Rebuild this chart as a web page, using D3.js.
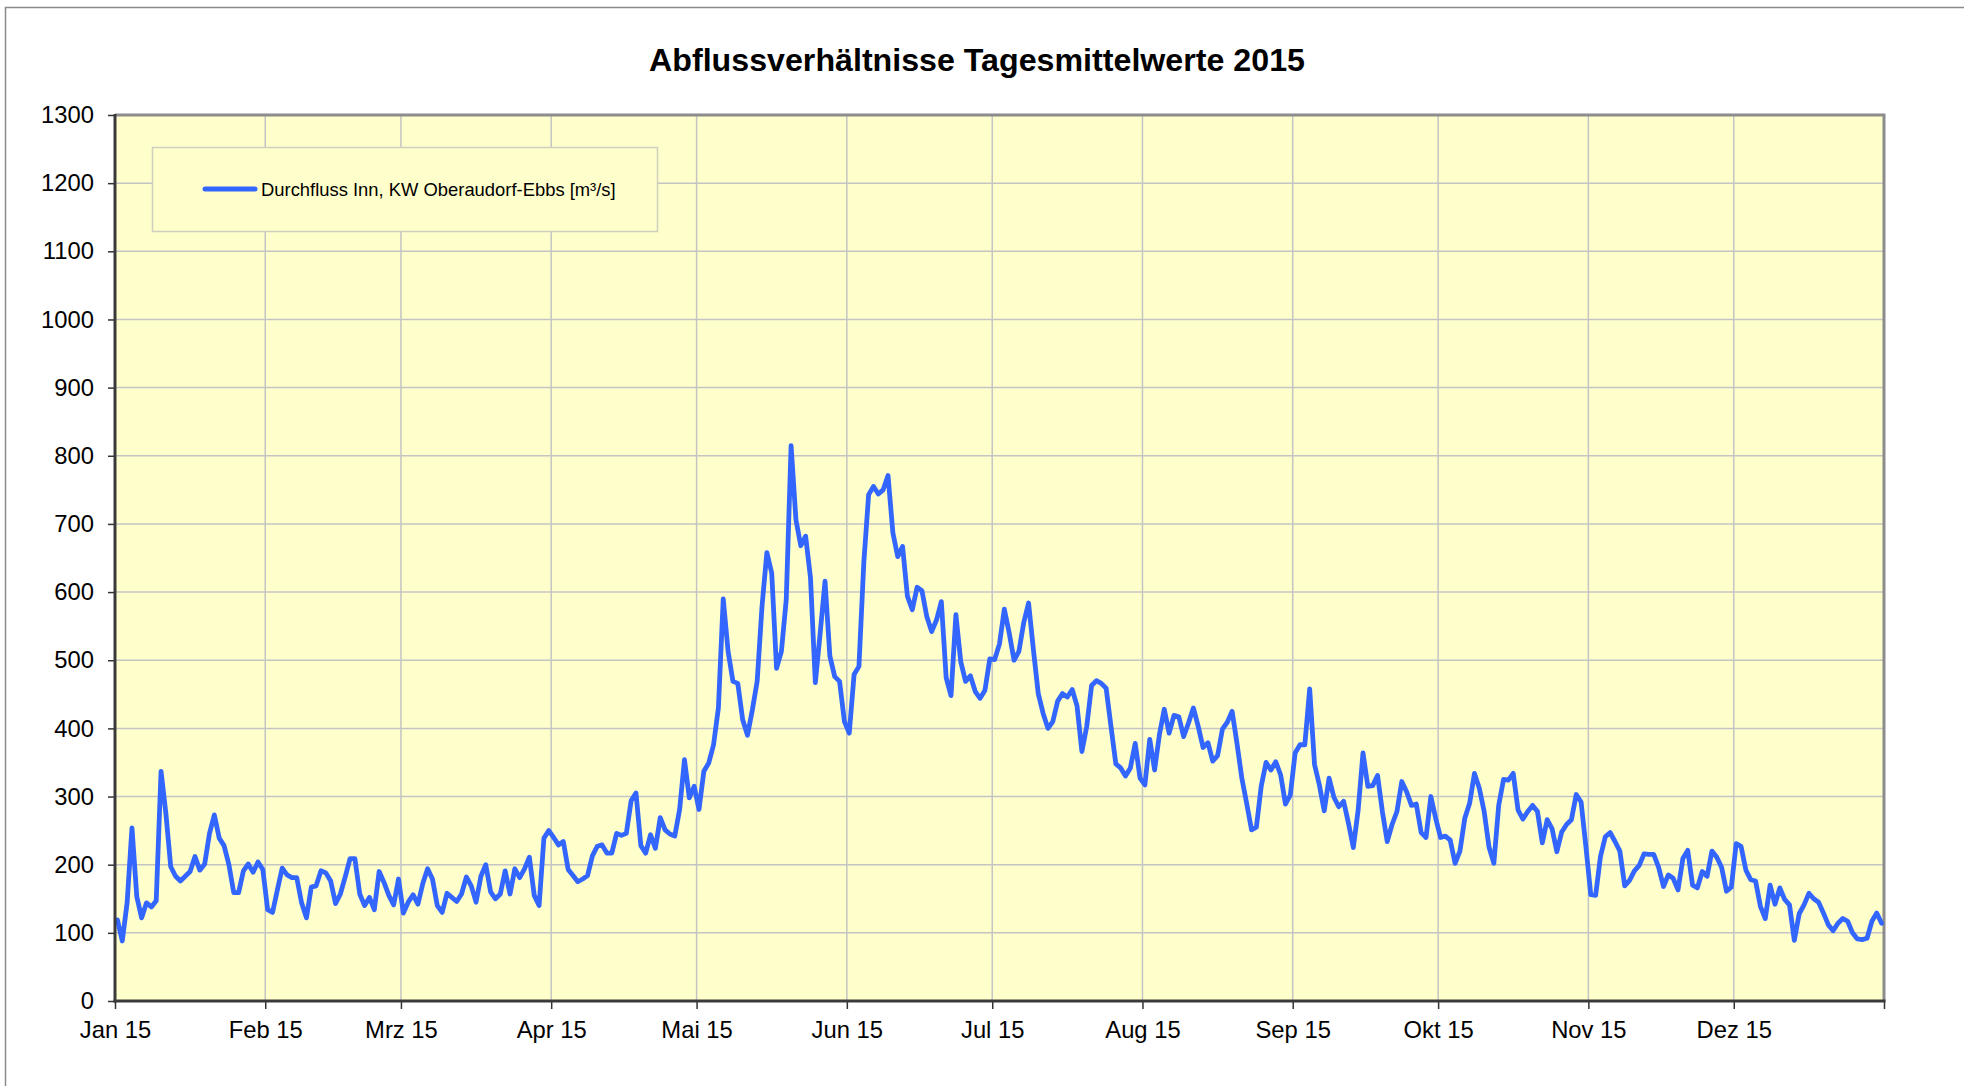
<!DOCTYPE html>
<html>
<head>
<meta charset="utf-8">
<title>Abflussverhältnisse Tagesmittelwerte 2015</title>
<script src="https://cdn.jsdelivr.net/npm/d3@7"></script>
<style>
  html, body { margin: 0; padding: 0; background: #ffffff; }
  svg { display: block; font-family: "Liberation Sans", Arial, sans-serif; }
</style>
</head>
<body>
<svg id="chart" width="1964" height="1086"></svg>
<script>
// Daily mean discharge of the Inn at KW Oberaudorf-Ebbs, 2015 [m³/s], one array per month
const jan = [119, 88, 144, 254, 153, 122, 144, 138, 147, 337, 275, 197, 183, 176, 183, 190, 212, 192, 201, 246, 273, 239, 228, 200, 159, 159, 191, 201, 189, 204, 193];
const feb = [134, 130, 163, 195, 185, 181, 181, 144, 122, 167, 169, 191, 188, 176, 143, 157, 182, 209, 209, 157, 140, 152, 134, 190, 174, 155, 141, 179];
const mrz = [129, 145, 156, 142, 172, 194, 179, 140, 130, 158, 152, 146, 157, 182, 169, 145, 183, 200, 160, 150, 157, 191, 157, 194, 181, 194, 211, 155, 140, 239, 250];
const apr = [240, 229, 234, 193, 184, 175, 179, 184, 213, 227, 229, 217, 217, 246, 243, 246, 294, 305, 228, 217, 244, 224, 269, 251, 245, 242, 281, 354, 298, 315];
const mai = [281, 337, 349, 376, 430, 590, 513, 469, 466, 413, 390, 427, 469, 579, 658, 628, 488, 513, 589, 815, 706, 668, 682, 621, 467, 540, 616, 506, 476, 469, 410];
const jun = [393, 479, 491, 643, 743, 755, 744, 750, 771, 687, 652, 667, 594, 574, 607, 602, 564, 542, 559, 586, 474, 448, 567, 498, 469, 477, 454, 444, 456, 502];
const jul = [501, 524, 575, 540, 500, 513, 555, 584, 515, 451, 422, 400, 410, 440, 451, 446, 457, 433, 366, 403, 463, 470, 466, 459, 403, 348, 342, 330, 342, 378, 327];
const aug = [317, 384, 339, 391, 428, 393, 419, 417, 388, 408, 430, 403, 372, 379, 352, 360, 399, 409, 425, 378, 327, 290, 251, 255, 315, 350, 339, 351, 332, 289, 302];
const sep = [364, 376, 376, 458, 347, 317, 279, 327, 299, 285, 293, 261, 225, 280, 364, 315, 316, 331, 278, 234, 259, 278, 322, 307, 287, 289, 247, 240, 300, 268];
const okt = [240, 242, 236, 202, 220, 268, 290, 334, 312, 278, 226, 202, 287, 325, 324, 334, 280, 267, 278, 287, 278, 232, 266, 253, 219, 248, 259, 266, 303, 292, 226];
const nov = [156, 155, 212, 241, 247, 234, 220, 169, 177, 191, 199, 216, 215, 215, 196, 168, 185, 180, 163, 209, 221, 170, 166, 190, 183, 220, 211, 196, 161, 167];
const dez = [231, 227, 192, 178, 176, 139, 121, 170, 142, 166, 149, 141, 89, 128, 141, 158, 150, 145, 129, 112, 103, 114, 121, 117, 100, 91, 90, 92, 117, 129, 114];

const monthLabels = ["Jan 15", "Feb 15", "Mrz 15", "Apr 15", "Mai 15", "Jun 15", "Jul 15", "Aug 15", "Sep 15", "Okt 15", "Nov 15", "Dez 15"];
const yTicks = [0, 100, 200, 300, 400, 500, 600, 700, 800, 900, 1000, 1100, 1200, 1300];

const chartTitle = "Abflussverhältnisse Tagesmittelwerte 2015";
const seriesName = "Durchfluss Inn, KW Oberaudorf-Ebbs [m³/s]";

// one record per day, placed in the middle of its day
const monthly = [jan, feb, mrz, apr, mai, jun, jul, aug, sep, okt, nov, dez];
const DAY = 86400000;
const data = [];
monthly.forEach((vals, m) => {
  vals.forEach((v, i) => {
    data.push({ date: new Date(Date.UTC(2015, m, i + 1) + DAY / 2), value: v });
  });
});

const svg = d3.select("#chart");
const plot = { left: 115, right: 1884, top: 115, bottom: 1001 };
const lineColor = "#3366ff";
const plotFill = "#ffffcc";
const gridColor = "#c4c4c4";

const x = d3.scaleUtc()
  .domain([new Date(Date.UTC(2015, 0, 1)), new Date(Date.UTC(2016, 0, 1))])
  .range([plot.left, plot.right]);
const y = d3.scaleLinear()
  .domain([0, 1300])
  .range([plot.bottom, plot.top]);

const monthStarts = d3.utcMonth.range(new Date(Date.UTC(2015, 0, 1)), new Date(Date.UTC(2016, 0, 2)));

// outer chart frame
svg.append("rect")
  .attr("x", 5.5).attr("y", 7.5)
  .attr("width", 2000).attr("height", 1200)
  .attr("fill", "#ffffff")
  .attr("stroke", "#8a8a8a").attr("stroke-width", 1.5);

// title
svg.append("text")
  .attr("x", 977).attr("y", 71)
  .attr("text-anchor", "middle")
  .attr("font-size", 32.2).attr("font-weight", "bold")
  .attr("fill", "#000")
  .text(chartTitle);

// plot background
svg.append("rect")
  .attr("x", plot.left).attr("y", plot.top)
  .attr("width", plot.right - plot.left).attr("height", plot.bottom - plot.top)
  .attr("fill", plotFill);

// horizontal grid
svg.append("g")
  .selectAll("line")
  .data(yTicks.slice(1))
  .join("line")
  .attr("x1", plot.left).attr("x2", plot.right)
  .attr("y1", d => y(d)).attr("y2", d => y(d))
  .attr("stroke", gridColor).attr("stroke-width", 1.5);

// vertical grid at month starts
svg.append("g")
  .selectAll("line")
  .data(monthStarts.slice(1))
  .join("line")
  .attr("x1", d => x(d)).attr("x2", d => x(d))
  .attr("y1", plot.top).attr("y2", plot.bottom)
  .attr("stroke", gridColor).attr("stroke-width", 1.5);

// plot border (top / right)
svg.append("path")
  .attr("d", `M${plot.left},${plot.top}H${plot.right}V${plot.bottom}`)
  .attr("fill", "none")
  .attr("stroke", "#8c8c8c").attr("stroke-width", 3);

// legend
const legend = svg.append("g");
legend.append("rect")
  .attr("x", 152.5).attr("y", 147.5)
  .attr("width", 505).attr("height", 84)
  .attr("fill", plotFill)
  .attr("stroke", "#cfcfbf").attr("stroke-width", 1.5);
legend.append("line")
  .attr("x1", 205).attr("x2", 255)
  .attr("y1", 189).attr("y2", 189)
  .attr("stroke", lineColor).attr("stroke-width", 5)
  .attr("stroke-linecap", "round");
legend.append("text")
  .attr("x", 261).attr("y", 195.5)
  .attr("font-size", 18.4)
  .attr("fill", "#000")
  .text(seriesName);

// data line
const line = d3.line()
  .x(d => x(d.date))
  .y(d => y(d.value));
svg.append("path")
  .datum(data)
  .attr("d", line)
  .attr("fill", "none")
  .attr("stroke", lineColor)
  .attr("stroke-width", 4.8)
  .attr("stroke-linejoin", "round")
  .attr("stroke-linecap", "round");

// y axis
const yAxis = d3.axisLeft(y)
  .tickValues(yTicks)
  .tickSize(7)
  .tickPadding(14)
  .tickFormat(d3.format("d"));
const gy = svg.append("g")
  .attr("transform", `translate(${plot.left},0)`)
  .call(yAxis);
gy.select(".domain").remove();
gy.selectAll(".tick line").attr("stroke", "#333").attr("stroke-width", 1.5);
gy.selectAll(".tick text")
  .attr("font-size", 23.8)
  .attr("font-family", "'Liberation Sans', Arial, sans-serif")
  .attr("fill", "#000");

// x axis
const xAxis = d3.axisBottom(x)
  .tickValues(monthStarts)
  .tickSize(8)
  .tickPadding(12)
  .tickFormat((d, i) => i < monthLabels.length ? monthLabels[i] : "");
const gx = svg.append("g")
  .attr("transform", `translate(0,${plot.bottom})`)
  .call(xAxis);
gx.select(".domain").remove();
gx.selectAll(".tick line").attr("stroke", "#333").attr("stroke-width", 1.5);
gx.selectAll(".tick text")
  .attr("font-size", 23.8)
  .attr("font-family", "'Liberation Sans', Arial, sans-serif")
  .attr("fill", "#000");

// axis lines
svg.append("line")
  .attr("x1", plot.left).attr("x2", plot.left)
  .attr("y1", plot.top - 1).attr("y2", plot.bottom + 1.5)
  .attr("stroke", "#3a3a3a").attr("stroke-width", 3);
svg.append("line")
  .attr("x1", plot.left - 1.5).attr("x2", plot.right + 1.5)
  .attr("y1", plot.bottom).attr("y2", plot.bottom)
  .attr("stroke", "#3a3a3a").attr("stroke-width", 3);
</script>
</body>
</html>
